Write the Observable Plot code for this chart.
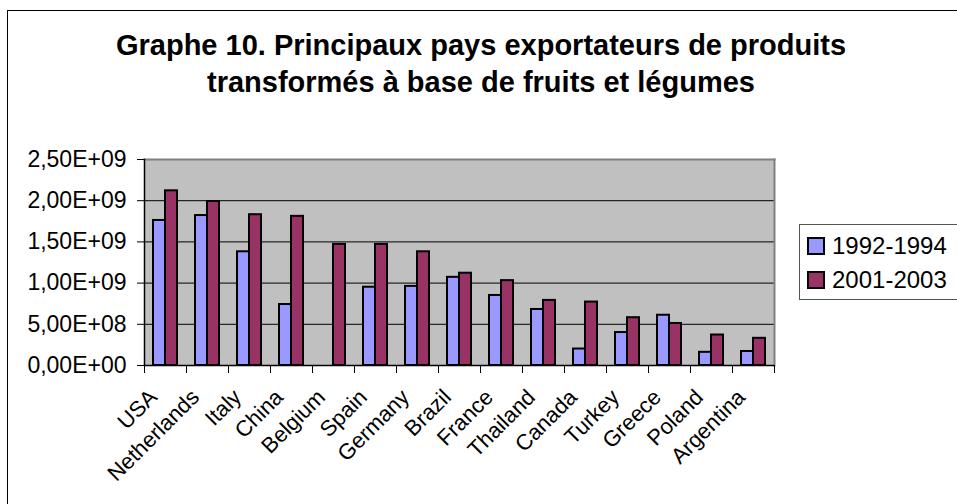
<!DOCTYPE html>
<html><head><meta charset="utf-8">
<script src="https://cdn.jsdelivr.net/npm/d3@7"></script>
<script src="https://cdn.jsdelivr.net/npm/@observablehq/plot@0.6"></script>
<style>
body{margin:0;background:#fff;overflow:hidden}
#wrap{position:relative;width:957px;height:504px;overflow:hidden;font-family:"Liberation Sans",Arial,sans-serif;background:#fff}
#border{position:absolute;left:7px;top:10px;width:1000px;height:600px;border-left:1.5px solid #000;border-top:1.5px solid #000;box-sizing:border-box}
#title{position:absolute;left:0;top:27px;width:962px;text-align:center;font-weight:bold;font-size:29px;line-height:37px;color:#000}
#chart{position:absolute;left:0;top:140px}
#legend{position:absolute;left:799px;top:224px;width:170px;height:76px;border:1.5px solid #555;background:#fff;box-sizing:border-box}
.li{position:absolute;left:7px;height:30px;display:flex;align-items:center;font-size:24px;color:#000}
.sw{width:14px;height:14px;border:2px solid #000;margin-right:7px;flex:none}
</style></head>
<body>
<div id="wrap">
  <div id="border"></div>
  <div id="title">Graphe 10. Principaux pays exportateurs de produits<br>transformés à base de fruits et légumes</div>
  <div id="chart"></div>
  <div id="legend"></div>
</div>
<script>
const countries = ["USA","Netherlands","Italy","China","Belgium","Spain","Germany","Brazil","France","Thailand","Canada","Turkey","Greece","Poland","Argentina"];
const series = ["1992-1994","2001-2003"];
const colors = ["#9999FF","#993366"];
const values1992 = [1.76e9,1.82e9,1.38e9,0.74e9,null,0.95e9,0.96e9,1.07e9,0.85e9,0.68e9,0.20e9,0.40e9,0.61e9,0.16e9,0.17e9];
const values2001 = [2.12e9,1.99e9,1.83e9,1.81e9,1.47e9,1.47e9,1.38e9,1.12e9,1.03e9,0.79e9,0.77e9,0.58e9,0.51e9,0.37e9,0.33e9];
const yTicks = [0,5e8,1e9,1.5e9,2e9,2.5e9];
const yTickLabels = ["0,00E+00","5,00E+08","1,00E+09","1,50E+09","2,00E+09","2,50E+09"];

const rows = [];
countries.forEach((c,i)=>{
  if (values1992[i] != null) rows.push({country:c, series:series[0], value:values1992[i]});
  if (values2001[i] != null) rows.push({country:c, series:series[1], value:values2001[i]});
});

const W = 957, H = 345, mT = 19, mB = 120, mL = 140, mR = 180;
const plotH = H - mT - mB;

const chart = Plot.plot({
  width: W, height: H,
  marginTop: mT, marginBottom: mB, marginLeft: mL, marginRight: mR,
  style: {fontFamily: '"Liberation Sans", Arial, sans-serif', fontSize: "22px", color: "#000", background: "transparent", overflow: "visible"},
  fx: {domain: countries, padding: 0, label: null},
  x: {domain: series, paddingInner: 0, paddingOuter: 0.667, axis: null},
  y: {domain: [0, 2.5e9], label: null},
  color: {domain: series, range: colors},
  marks: [
    Plot.frame({facet: "super", fill: "#C0C0C0"}),
    Plot.ruleY(yTicks.slice(1, -1), {stroke: "#000", strokeWidth: 1}),
    Plot.barY(rows, {fx: "country", x: "series", y: "value", fill: "series", stroke: "#000", strokeWidth: 2}),
    Plot.frame({facet: "super", anchor: "top", stroke: "#808080", strokeWidth: 2}),
    Plot.frame({facet: "super", anchor: "right", stroke: "#808080", strokeWidth: 2}),
    Plot.frame({anchor: "left", stroke: "#000", strokeWidth: 1, insetTop: plotH, insetBottom: -7}),
    Plot.frame({facet: "super", anchor: "right", stroke: "#000", strokeWidth: 1, insetTop: plotH, insetBottom: -7}),
    Plot.ruleY([0], {stroke: "#000", strokeWidth: 1.5}),
    Plot.frame({facet: "super", anchor: "left", stroke: "#000", strokeWidth: 1.5}),
    Plot.axisY({ticks: yTicks, tickFormat: d => yTickLabels[yTicks.indexOf(d)], tickSize: 7, tickPadding: 11, label: null, fontSize: 23, stroke: "#000"}),
    Plot.axisFx({anchor: "bottom", tickRotate: -45, tickSize: 0, tickPadding: 28, dx: -12, label: null, fontSize: 22})
  ]
});
document.getElementById("chart").appendChild(chart);

const legend = document.getElementById("legend");
series.forEach((s,i)=>{
  const d = document.createElement("div");
  d.className = "li";
  d.style.top = (6 + i*34) + "px";
  d.innerHTML = `<span class="sw" style="background:${colors[i]}"></span><span>${s}</span>`;
  legend.appendChild(d);
});
</script>
</body></html>
